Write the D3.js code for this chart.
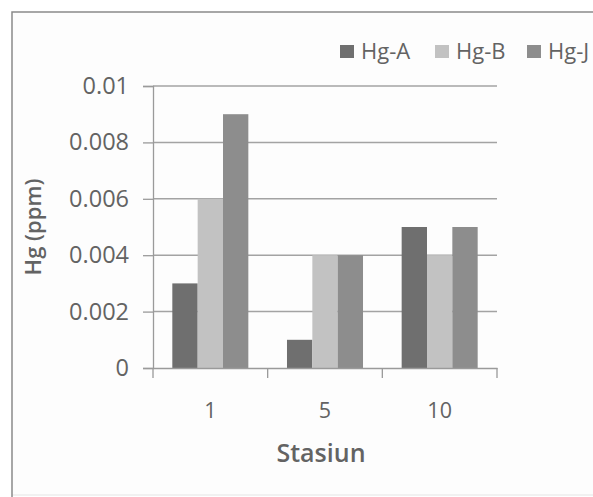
<!DOCTYPE html>
<html>
<head>
<meta charset="utf-8">
<script src="https://cdn.jsdelivr.net/npm/d3@7"></script>
<style>
  html, body { margin: 0; padding: 0; background: #ffffff; }
  svg { display: block; }
  text { font-family: "Open Sans", sans-serif; fill: #636363; }
</style>
</head>
<body>
<svg id="chart" width="593" height="497"></svg>
<script>
// Mercury concentration per station
const stations = ["1", "5", "10"];
const seriesNames = ["Hg-A", "Hg-B", "Hg-J"];
const hgA = [0.003, 0.001, 0.005];
const hgB = [0.006, 0.004, 0.004];
const hgJ = [0.009, 0.004, 0.005];
const yTicks = [0, 0.002, 0.004, 0.006, 0.008, 0.01];
const yTickLabels = ["0", "0.002", "0.004", "0.006", "0.008", "0.01"];
const seriesColors = ["#6f6f6f", "#c2c2c2", "#8d8d8d"];

const series = [hgA, hgB, hgJ];

const svg = d3.select("#chart");

// chart area background and frame
svg.append("rect")
  .attr("x", 12).attr("y", 12)
  .attr("width", 600).attr("height", 483)
  .attr("fill", "#fdfdfd");
svg.append("line")
  .attr("x1", 12).attr("x2", 600).attr("y1", 495).attr("y2", 495)
  .attr("stroke", "#e4e4e4").attr("stroke-width", 1);
svg.append("path")
  .attr("d", "M12,497V12H600")
  .attr("fill", "none")
  .attr("stroke", "#8a8a8a").attr("stroke-width", 1.5);

const plot = { left: 153, right: 497, top: 86, bottom: 368 };

const x = d3.scaleBand()
  .domain(stations)
  .range([plot.left, plot.right])
  .paddingInner(0.337)
  .paddingOuter(0.1685);

const xInner = d3.scaleBand()
  .domain(seriesNames)
  .range([0, x.bandwidth()])
  .padding(0);

const y = d3.scaleLinear()
  .domain([0, 0.01])
  .range([plot.bottom, plot.top]);

// horizontal gridlines
svg.append("g")
  .selectAll("line")
  .data(yTicks.slice(1))
  .join("line")
  .attr("x1", plot.left).attr("x2", plot.right)
  .attr("y1", d => y(d)).attr("y2", d => y(d))
  .attr("stroke", "#a3a3a3").attr("stroke-width", 1.5);

// bars
const rows = stations.map((s, i) => ({
  station: s,
  values: seriesNames.map((n, k) => ({ name: n, value: series[k][i], k }))
}));

svg.append("g")
  .selectAll("g")
  .data(rows)
  .join("g")
  .attr("transform", d => `translate(${x(d.station)},0)`)
  .selectAll("rect")
  .data(d => d.values)
  .join("rect")
  .attr("x", d => xInner(d.name))
  .attr("width", xInner.bandwidth())
  .attr("y", d => y(d.value))
  .attr("height", d => y(0) - y(d.value))
  .attr("fill", d => seriesColors[d.k]);

// y axis
const yAxis = svg.append("g")
  .attr("transform", `translate(${plot.left},0)`)
  .call(d3.axisLeft(y)
    .tickValues(yTicks)
    .tickFormat((d, i) => yTickLabels[i])
    .tickSize(10)
    .tickPadding(14));
yAxis.select(".domain").attr("stroke", "#9a9a9a").attr("stroke-width", 1.3);
yAxis.selectAll(".tick line").attr("stroke", "#9a9a9a").attr("stroke-width", 1.3);
yAxis.selectAll(".tick text")
  .style("font-family", "'Open Sans', sans-serif")
  .style("font-size", "23.5px")
  .attr("fill", "#636363");

// x axis: baseline, category boundary ticks, labels
const xAxis = svg.append("g")
  .attr("transform", `translate(0,${plot.bottom})`)
  .call(d3.axisBottom(x).tickSize(0).tickPadding(35));
xAxis.select(".domain").attr("stroke", "#9a9a9a").attr("stroke-width", 1.3);
xAxis.selectAll(".tick text")
  .style("font-family", "'Open Sans', sans-serif")
  .style("font-size", "21.5px")
  .attr("fill", "#636363");

const bounds = [plot.left].concat(stations.map(s => x(s) + x.bandwidth() + x.step() * x.paddingInner() / 2));
bounds[bounds.length - 1] = plot.right;
svg.append("g")
  .selectAll("line")
  .data(bounds)
  .join("line")
  .attr("x1", d => d).attr("x2", d => d)
  .attr("y1", plot.bottom).attr("y2", plot.bottom + 10)
  .attr("stroke", "#9a9a9a").attr("stroke-width", 1.3);

// axis titles
svg.append("text")
  .attr("x", 321).attr("y", 462)
  .attr("text-anchor", "middle")
  .style("font-size", "25px").style("font-weight", 600)
  .text("Stasiun");

svg.append("text")
  .attr("transform", "translate(41,227) rotate(-90)")
  .attr("text-anchor", "middle")
  .style("font-size", "22px").style("font-weight", 600)
  .text("Hg (ppm)");

// legend
const legendX = [340, 435, 527];
const legend = svg.append("g")
  .selectAll("g")
  .data(seriesNames)
  .join("g")
  .attr("transform", (d, i) => `translate(${legendX[i]},45)`);
legend.append("rect")
  .attr("width", 14).attr("height", 13)
  .attr("fill", (d, i) => seriesColors[i]);
legend.append("text")
  .attr("x", 21).attr("y", 13.5)
  .style("font-size", "22px")
  .text(d => d);
</script>
</body>
</html>
